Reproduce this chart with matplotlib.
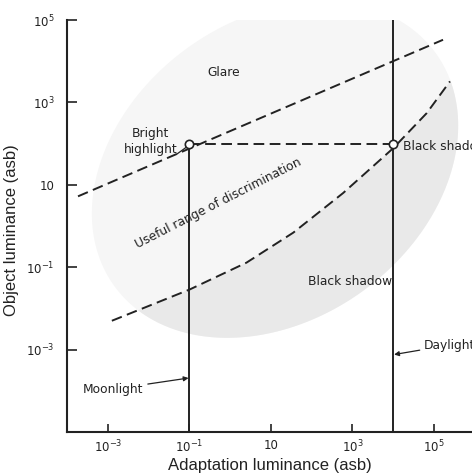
import numpy as np
import matplotlib
matplotlib.use("Agg")
import matplotlib.pyplot as plt
from matplotlib.patches import Polygon
from matplotlib.ticker import NullLocator

# ---------------- data (log10 units) ----------------
x_ticks = [1e-3, 1e-1, 10, 1e3, 1e5]
x_tick_labels = [r"$10^{-3}$", r"$10^{-1}$", "10", r"$10^{3}$", r"$10^{5}$"]
y_ticks = [1e-3, 1e-1, 10, 1e3, 1e5]
y_tick_labels = [r"$10^{-3}$", r"$10^{-1}$", "10", r"$10^{3}$", r"$10^{5}$"]

# upper (glare) limit, straight on log-log
glare_x = [10**-3.73, 10**5.22]
glare_y = [10**0.72, 10**4.52]

# lower (black shadow) limit
shadow_x = [10**v for v in [-2.90, -0.99, 0.40, 1.55, 2.77, 4.00, 4.82, 5.39]]
shadow_y = [10**v for v in [-2.30, -1.54, -0.89, -0.16, 0.80, 1.89, 2.74, 3.51]]

moonlight_x = 1e-1
daylight_x = 1e4
highlight_y = 100.0

plt.rcParams["mathtext.default"] = "regular"
plt.rcParams["font.family"] = ["DejaVu Sans"]

fig = plt.figure(figsize=(4.72, 4.76), dpi=100)
ax = fig.add_axes([67 / 472, 1 - 432 / 476, 1 - 67 / 472, (432 - 20) / 476])
ax.set_xscale("log")
ax.set_yscale("log")
ax.set_xlim(1e-4, 10**5.93)
ax.set_ylim(1e-5, 1e5)

# ---- shaded stippled areas (ellipse in log space) ----
cx, cy, a, b, ang = 1.1, 1.37, 4.85, 3.65, np.deg2rad(35)
t = np.linspace(0, 2 * np.pi, 300)
ex = cx + a * np.cos(t) * np.cos(ang) - b * np.sin(t) * np.sin(ang)
ey = cy + a * np.cos(t) * np.sin(ang) + b * np.sin(t) * np.cos(ang)
ell_pts = np.column_stack([10**ex, 10**ey])
ax.add_patch(Polygon(ell_pts, closed=True, facecolor="#f6f6f6",
                     edgecolor="none", zorder=0))
dark = Polygon(ell_pts, closed=True, facecolor="#e9e9e9",
               edgecolor="none", zorder=0.5)
ax.add_patch(dark)
clip_pts = [(shadow_x[0] / 30, shadow_y[0] / 3)] + list(zip(shadow_x, shadow_y)) + \
           [(shadow_x[-1] * 3, shadow_y[-1] * 30), (shadow_x[-1] * 30, 1e-6),
            (shadow_x[0] / 30, 1e-6)]
clip_poly = Polygon(clip_pts, closed=True, transform=ax.transData,
                    facecolor="none", edgecolor="none")
dark.set_clip_path(clip_poly)

# ---- lines ----
lw = 1.4
ax.plot(glare_x, glare_y, color="#222", lw=lw, dashes=(5.5, 2.8), zorder=2)
ax.plot(shadow_x, shadow_y, color="#222", lw=lw, dashes=(5.5, 2.8), zorder=2)
ax.plot([moonlight_x, daylight_x], [highlight_y, highlight_y], color="#222",
        lw=lw, dashes=(5.5, 2.8), zorder=2)
ax.plot([moonlight_x, moonlight_x], [1e-5, highlight_y], color="#222", lw=lw, zorder=2)
ax.plot([daylight_x, daylight_x], [1e-5, 1e5], color="#222", lw=lw, zorder=2)
ax.plot([moonlight_x, daylight_x], [highlight_y, highlight_y], ls="none",
        marker="o", ms=6, mfc="white", mec="#222", mew=1.2, zorder=3)

# ---- spines and ticks ----
for s in ["top", "right"]:
    ax.spines[s].set_visible(False)
for s in ["left", "bottom"]:
    ax.spines[s].set_linewidth(1.5)
    ax.spines[s].set_color("#222")
ax.set_xticks(x_ticks)
ax.set_xticklabels(x_tick_labels)
ax.set_yticks(y_ticks)
ax.set_yticklabels(y_tick_labels)
ax.xaxis.set_minor_locator(NullLocator())
ax.yaxis.set_minor_locator(NullLocator())
ax.tick_params(axis="y", direction="in", length=7, width=1.2, pad=9,
               labelsize=8.5, colors="#222")
ax.tick_params(axis="x", direction="in", length=6, width=1.2, pad=5,
               labelsize=8.5, colors="#222")

ax.set_xlabel("Adaptation luminance (asb)", fontsize=12, family="Liberation Sans",
              color="#222", labelpad=2)
ax.set_ylabel("Object luminance (asb)", fontsize=12, family="Liberation Sans",
              color="#222")
ax.yaxis.set_label_coords(-0.118, 0.49)

# ---- annotations ----
tk = dict(fontsize=8.8, color="#222")
ax.text(10**-0.15, 10**3.72, "Glare", ha="center", va="center", **tk)
ax.text(10**-1.95, 10**2.05, "Bright\nhighlight", ha="center", va="center",
        linespacing=1.3, **tk)
ax.plot([10**-1.30, 10**-1.05], [10**1.75, 10**1.93], color="#222", lw=0.9)
ax.text(10**-0.30, 10**0.55, "Useful range of discrimination", rotation=27,
        ha="center", va="center", rotation_mode="anchor", **tk)
ax.text(10**4.24, 10**1.93, "Black shadow", ha="left", va="center",
        clip_on=False, **tk)
ax.text(10**3.98, 10**-1.34, "Black shadow", ha="right", va="center", **tk)
ax.annotate("Daylight", xy=(10**4.02, 10**-3.12), xytext=(10**4.75, 10**-2.89),
            ha="left", va="center", annotation_clip=False,
            arrowprops=dict(arrowstyle="-|>", color="#222", lw=0.9,
                            mutation_scale=7, shrinkA=1, shrinkB=0), **tk)
ax.annotate("Moonlight", xy=(10**-1.02, 10**-3.69), xytext=(10**-2.12, 10**-3.96),
            ha="right", va="center",
            arrowprops=dict(arrowstyle="-|>", color="#222", lw=0.9,
                            mutation_scale=7, shrinkA=1, shrinkB=0), **tk)

fig.savefig("out.png", dpi=100)
